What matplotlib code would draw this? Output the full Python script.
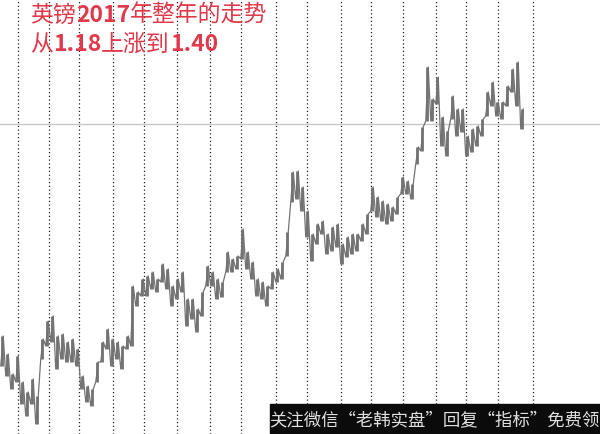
import numpy as np
import matplotlib
matplotlib.use("Agg")
import matplotlib.pyplot as plt
from matplotlib.patches import Rectangle

plt.rcParams['font.family'] = ['Noto Sans CJK SC', 'DejaVu Sans']

# bar highs / lows (GBP), one bar per slot
highs = [1.193, 1.175, 1.155, 1.173, 1.147, 1.137, 1.150, 1.133, 1.190, 1.208,
         1.213, 1.193, 1.195, 1.187, 1.190, 1.180, 1.153, 1.143, 1.140, 1.167,
         1.187, 1.200, 1.190, 1.187, 1.183, 1.193, 1.243, 1.237, 1.250, 1.253,
         1.257, 1.250, 1.265, 1.260, 1.243, 1.250, 1.257, 1.230, 1.230, 1.220,
         1.237, 1.263, 1.257, 1.250, 1.247, 1.277, 1.270, 1.273, 1.300, 1.277,
         1.267, 1.250, 1.247, 1.243, 1.257, 1.260, 1.267, 1.297, 1.357, 1.358,
         1.342, 1.318, 1.295, 1.305, 1.308, 1.295, 1.302, 1.305, 1.285, 1.292,
         1.295, 1.295, 1.305, 1.315, 1.342, 1.332, 1.328, 1.325, 1.322, 1.332,
         1.352, 1.348, 1.345, 1.382, 1.402, 1.462, 1.430, 1.452, 1.412, 1.398,
         1.433, 1.420, 1.420, 1.393, 1.400, 1.403, 1.410, 1.437, 1.447, 1.427,
         1.427, 1.443, 1.460, 1.467, 1.420]
lows = [1.163, 1.153, 1.140, 1.147, 1.125, 1.113, 1.125, 1.105, 1.170, 1.183,
        1.187, 1.160, 1.170, 1.167, 1.167, 1.163, 1.140, 1.127, 1.123, 1.147,
        1.167, 1.180, 1.163, 1.170, 1.160, 1.180, 1.183, 1.223, 1.233, 1.233,
        1.240, 1.237, 1.247, 1.240, 1.223, 1.230, 1.237, 1.203, 1.210, 1.197,
        1.213, 1.243, 1.243, 1.230, 1.232, 1.257, 1.257, 1.260, 1.270, 1.260,
        1.250, 1.233, 1.230, 1.223, 1.240, 1.247, 1.250, 1.273, 1.327, 1.330,
        1.318, 1.292, 1.268, 1.285, 1.295, 1.275, 1.278, 1.282, 1.265, 1.272,
        1.275, 1.278, 1.288, 1.295, 1.318, 1.312, 1.308, 1.305, 1.308, 1.315,
        1.335, 1.335, 1.330, 1.365, 1.378, 1.408, 1.408, 1.425, 1.383, 1.373,
        1.410, 1.393, 1.397, 1.373, 1.377, 1.383, 1.393, 1.413, 1.423, 1.413,
        1.410, 1.423, 1.437, 1.423, 1.400]

# period separators (bar positions)
separators = [3.2, 9.4, 15.4, 22.2, 28.4, 35.0, 41.6, 47.8, 54.8, 61.0,
              67.8, 73.8, 80.2, 86.8, 92.8, 99.2, 106.2]
last_price = 1.405

title_line1 = [("英镑", "normal"), ("2017", "bold"), ("年整年的走势", "normal")]
title_line2 = [("从", "normal"), ("1.18", "bold"), ("上涨到", "normal"), ("1.40", "bold")]
watermark = "关注微信“老韩实盘”回复“指标”免费领"

fig = plt.figure(figsize=(6, 4.35), dpi=100)
ax = fig.add_axes([0, 0, 1, 1])
ax.set_xlim(-0.4, 119.6)
ax.set_ylim(1.095, 1.53)
ax.axis("off")

x = np.arange(len(highs))
for s in separators:
    ax.axvline(s, color="#222222", lw=0.9, ls=(0, (1, 2)), zorder=1)
ax.axhline(last_price, color="#c8c8c8", lw=1.0, zorder=1)

ax.vlines(x, lows, highs, color="#727272", lw=2.0, zorder=3)
# zigzag between bars gives the dense daily look
zz_x = np.repeat(x, 2) + np.tile([-0.25, 0.25], len(x))
zz_y = np.ravel(np.column_stack([lows, highs]))
ax.plot(zz_x, zz_y, color="#727272", lw=0.9, zorder=3)

renderer = fig.canvas.get_renderer()


def draw_pieces(pieces, x0, y0):
    xp = x0
    for s, w in pieces:
        t = fig.text(xp / 600, 1 - y0 / 435, s, color="#e0394a", fontsize=16.5,
                     fontweight=w, va="top", ha="left")
        bb = t.get_window_extent(renderer)
        xp += bb.width


draw_pieces(title_line1, 30, 4)
draw_pieces(title_line2, 30, 33)

fig.patches.append(Rectangle((270 / 600, 0), 330 / 600, 30 / 435,
                             transform=fig.transFigure, color="#0b0b0b", zorder=5))
fig.text(434 / 600, 15 / 435, watermark, color="#e0e0e0", fontsize=12.5,
         ha="center", va="center", zorder=6)

fig.savefig("out.png", dpi=100)
